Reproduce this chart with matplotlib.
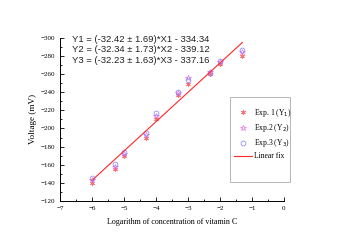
import matplotlib
matplotlib.use("Agg")
import matplotlib.pyplot as plt
import numpy as np
from matplotlib.ticker import MultipleLocator
from matplotlib.patches import Rectangle

x = [-6.0, -5.3, -5.0, -4.3, -4.0, -3.3, -3.0, -2.3, -2.0, -1.3]
y1 = [-140, -155, -170, -190, -210, -237, -249, -260, -271, -280]
y2 = [-143, -158, -172, -193, -214, -239, -256, -262, -273, -284]
y3 = [-145, -161, -174, -195, -217, -240, -253, -261, -274, -286]
fit_slope = -32.33
fit_intercept = -336.87
fit_x = [-6.0, -1.3]
equations = ["Y1 = (-32.42 \u00b1 1.69)*X1 - 334.34",
             "Y2 = (-32.34 \u00b1 1.73)*X2 - 339.12",
             "Y3 = (-32.23 \u00b1 1.63)*X3 - 337.16"]
labels = ["Exp. 1 (Y$_1$)", "Exp.2 (Y$_2$)", "Exp.3 (Y$_3$)", "Linear fix"]

serif = ["Liberation Serif", "DejaVu Serif"]
fig = plt.figure(figsize=(3.38, 2.40), dpi=100)
ax = fig.add_axes([0.178, 0.1625, 0.662, 0.680])

ax.plot(x, y1, linestyle="none", marker=(6, 2, 0), markersize=3.2, markeredgewidth=0.6,
        color="#ff7070", label=labels[0])
ax.plot(x, y2, linestyle="none", marker="*", markersize=4, markeredgewidth=0.5,
        markerfacecolor="none", markeredgecolor="#e070e8", label=labels[1])
ax.plot(x, y3, linestyle="none", marker="o", markersize=3.5, markeredgewidth=0.5,
        markerfacecolor="none", markeredgecolor="#8080ff", label=labels[2])
fx = np.array(fit_x)
ax.plot(fx, fit_slope * fx + fit_intercept, color="#ff2828", lw=0.8, label=labels[3])

ax.set_xlim(-7, 0)
ax.set_ylim(-120, -300)
ax.xaxis.set_major_locator(MultipleLocator(1))
ax.xaxis.set_minor_locator(MultipleLocator(0.5))
ax.yaxis.set_major_locator(MultipleLocator(20))
ax.yaxis.set_minor_locator(MultipleLocator(10))
ax.tick_params(which="both", direction="in", labelsize=5, width=0.6)
ax.tick_params(which="major", length=3)
ax.tick_params(which="minor", length=1.5)
for lab in ax.get_xticklabels() + ax.get_yticklabels():
    lab.set_family(serif)
for s in ["top", "right"]:
    ax.spines[s].set_visible(False)
for s in ["left", "bottom"]:
    ax.spines[s].set_linewidth(0.7)

ax.set_xlabel("Logarithm of concentration of vitamin C", family=serif, fontsize=5.8, labelpad=5)
ax.set_ylabel("Voltage (mV)", family=serif, fontsize=6.6, labelpad=3)

for i, eq in enumerate(equations):
    ax.text(0.054, 1.02 - i * 0.066, eq, transform=ax.transAxes, fontsize=6.8,
            family=["Liberation Sans", "DejaVu Sans"], va="top", ha="left", color="#222222",
            clip_on=False)

ax.add_patch(Rectangle((0.759, 0.116), 0.268, 0.521, transform=ax.transAxes, fill=False,
                       edgecolor="#aaaaaa", lw=0.6, clip_on=False))
leg = ax.legend(loc="upper left", bbox_to_anchor=(0.776, 0.575), prop={"family": serif, "size": 5.5},
                frameon=False, borderpad=0, handlelength=2.4, handletextpad=0.3,
                labelspacing=0.4, borderaxespad=0)

fig.savefig("out.png", dpi=100)
